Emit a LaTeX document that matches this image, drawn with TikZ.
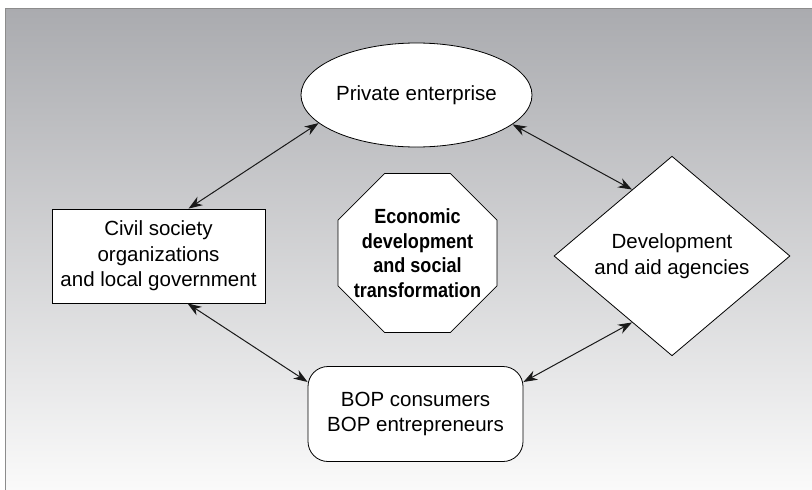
\documentclass[tikz,border=0pt]{standalone}
\usepackage{fontspec}
\setmainfont{Liberation Sans}
\newfontfamily\condfont{Liberation Sans}[FakeStretch=0.88]
\usetikzlibrary{shapes.geometric,arrows.meta}
\definecolor{bgtop}{RGB}{170,171,175}
\definecolor{bgbot}{RGB}{250,250,250}
\definecolor{bordergray}{RGB}{140,140,140}
\begin{document}
\begin{tikzpicture}[x=1pt,y=-1pt,
  box/.style={draw=black, fill=white, line width=0.8pt, inner sep=0pt, align=center,
    font=\fontsize{20.5}{25.5}\selectfont},
  boldtext/.style={inner sep=0pt, align=center,
    font=\condfont\bfseries\fontsize{20.5}{24.5}\selectfont},
  tip/.tip={Stealth[length=14pt,width=10pt,inset=4.5pt]},
  link/.style={tip-tip, line width=1pt, draw=black!90}]
\useasboundingbox (0,0) rectangle (812,490);
\shade[top color=bgtop, bottom color=bgbot] (5,8) rectangle (812,490);
\draw[draw=bordergray, line width=1pt] (5,490) -- (5,8) -- (812,8);

\node[box, ellipse, minimum width=231pt, minimum height=104pt] (pe) at (416.5,95) {Private enterprise};
\node[box, rectangle, minimum width=213pt, minimum height=94pt] (cs) at (158.5,256) {Civil society\\organizations\\and local government};
\node[box, diamond, minimum width=236pt, minimum height=148pt] (da) at (672,256) {Development\\and aid agencies};
\node[box, regular polygon, regular polygon sides=8, minimum size=172pt] (ec) at (417.5,253) {};
\node[boldtext] (ect) at (ec.center) {Economic\\development\\and social\\transformation};
\node[box, rectangle, rounded corners=20pt, minimum width=215pt, minimum height=95pt] (bop) at (415.5,414) {BOP consumers\\BOP entrepreneurs};

\draw[link] ([xshift=30pt]cs.north) -- (pe.196);
\draw[link] (pe.343.5) -- (da.121.6);
\draw[link] ([xshift=29pt]cs.south) -- ([yshift=32pt]bop.west);
\draw[link] ([yshift=32pt]bop.east) -- (da.239.5);
\end{tikzpicture}
\end{document}
